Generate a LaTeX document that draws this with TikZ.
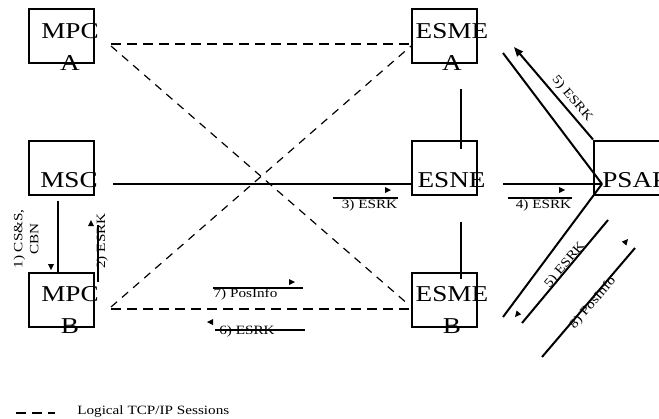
\documentclass[tikz,border=0pt]{standalone}
\usepackage{fontspec}
\setmainfont{Liberation Serif}[FakeStretch=1.2]
\usetikzlibrary{arrows.meta}

% small filled head beside a message line: x, y, angle
\newcommand{\msgtip}[3]{\fill[shift={(#1,#2)}, rotate=#3] (0,0) -- (-6,-3) -- (-6,3) -- cycle;}

\begin{document}
\begin{tikzpicture}[
  x=0.75pt, y=-0.75pt,
  box/.style={draw, line width=1.5pt, minimum width=48.75pt,
              minimum height=40.5pt, inner sep=0pt},
  big/.style={font=\fontsize{17}{24}\selectfont, inner sep=0pt, align=center},
  small/.style={font=\fontsize{9.5}{12}\selectfont, inner sep=0pt, align=center},
  link/.style={line width=1.5pt},
  session/.style={line width=1.5pt, dash pattern=on 7.5pt off 4.5pt},
  cross/.style={line width=0.9pt, dash pattern=on 6pt off 5pt},
  msg/.style={line width=1.5pt},
  arr/.style={msg, -{Triangle[length=7pt, width=5.5pt]}}
]
\useasboundingbox (0,0) rectangle (659,418);

% Boxes
\node[box] (mpca) at (61.5,36) {};
\node[box] (msc) at (61.5,167.5) {};
\node[box] (mpcb) at (61.5,300) {};
\node[box] (esmea) at (444.5,36) {};
\node[box] (esne) at (444.5,167.5) {};
\node[box] (esmeb) at (444.5,300) {};
\node[box, minimum width=51.75pt, anchor=west] (psap) at (593,167.5) {};

% Box texts (base is the second line)
\node[big, anchor=base] (mpcat) at (70,70) {MPC\\A};
\node[big, anchor=base] (msct) at (69,187) {MSC};
\node[big, anchor=base] (mpcbt) at (70,333) {MPC\\B};
\node[big, anchor=base] (esmeat) at (452,70) {ESME\\A};
\node[big, anchor=base] (esnet) at (451.5,187) {ESNE};
\node[big, anchor=base] (esmebt) at (452,333) {ESME\\B};
\node[big, anchor=base west] (psapt) at (602,187) {PSAP};

% Sessions
\draw[session] ([xshift=12pt, yshift=-6pt]mpca.east) -- ([yshift=-6pt]esmea.west);
\draw[session] ([xshift=12pt, yshift=-6.75pt]mpcb.east) -- ([yshift=-6.75pt]esmeb.west);
\draw[cross] ([xshift=12pt, yshift=-7.5pt]mpca.east) -- ([xshift=-1.5pt, yshift=-3.75pt]esmeb.west);
\draw[cross] ([xshift=12pt, yshift=-5.25pt]mpcb.east) -- ([yshift=-7.5pt]esmea.west);

% Links
\coordinate (psapin) at ([xshift=6.75pt, yshift=-12.375pt]psap.west);
\draw[link] ([xshift=13.5pt, yshift=-12.375pt]msc.east) -- ([yshift=-12.375pt]esne.west);
\draw[link] ([xshift=18.75pt, yshift=-12.375pt]esne.east) -- (psapin);
\draw[link] ([xshift=18.75pt, yshift=-12.75pt]esmea.east) -- (psapin);
\draw[link] (psapin) -- ([xshift=18.75pt, yshift=-12.75pt]esmeb.east);
\draw[link] ([xshift=12.375pt, yshift=-18.75pt]esmea.south) -- ([xshift=12.375pt, yshift=-6.75pt]esne.north);
\draw[link] ([xshift=12.375pt, yshift=-19.5pt]esne.south) -- ([xshift=12.375pt, yshift=-5.25pt]esmeb.north);
\draw[link] ([xshift=-2.625pt, yshift=-3.75pt]msc.south) -- ([xshift=-2.625pt]mpcb.north);

% Message labels
\node[small, rotate=90] (l1) at (26,239) {1) CS\&S,\\CBN};
\node[small, rotate=90] (l2) at (102,241) {2) ESRK};
\node[small, anchor=base] (l3) at (369.5,208) {3) ESRK};
\node[small, anchor=base] (l4) at (543.5,208) {4) ESRK};
\node[small, rotate=-49.6] (l5a) at (572,99) {5) ESRK};
\node[small, rotate=50] (l5b) at (565,265) {5) ESRK};
\node[small, anchor=base] (l6) at (247,334) {6) ESRK};
\node[small, anchor=base] (l7) at (245.5,297) {7) PosInfo};
\node[small, rotate=49.5] (l8) at (593,303) {8) PosInfo};

% Message lines
\msgtip{51}{270}{-90}
\draw[msg] (98,225) -- (98,282);
\msgtip{91}{220}{90}
\draw[msg] (333,198) -- (398,198);
\msgtip{391}{190}{0}
\draw[msg] (508,198) -- (572,198);
\msgtip{565}{190}{0}
\draw[arr] (psap.north west) -- ([xshift=27pt, yshift=-8.25pt]esmea.east);
\draw[msg] (608,220) -- (522,323);
\msgtip{515}{317}{230}
\draw[msg] (215,330) -- (305,330);
\msgtip{207}{322}{180}
\draw[msg] (213,288) -- (303,288);
\msgtip{295}{282}{0}
\draw[msg] (635,248) -- (542,357);
\msgtip{628}{239}{49.5}

% Legend
\draw[session] (16,413) -- (55,413);
\node[small, anchor=base west] (legend) at (77,414) {Logical TCP/IP Sessions};

\end{tikzpicture}
\end{document}
